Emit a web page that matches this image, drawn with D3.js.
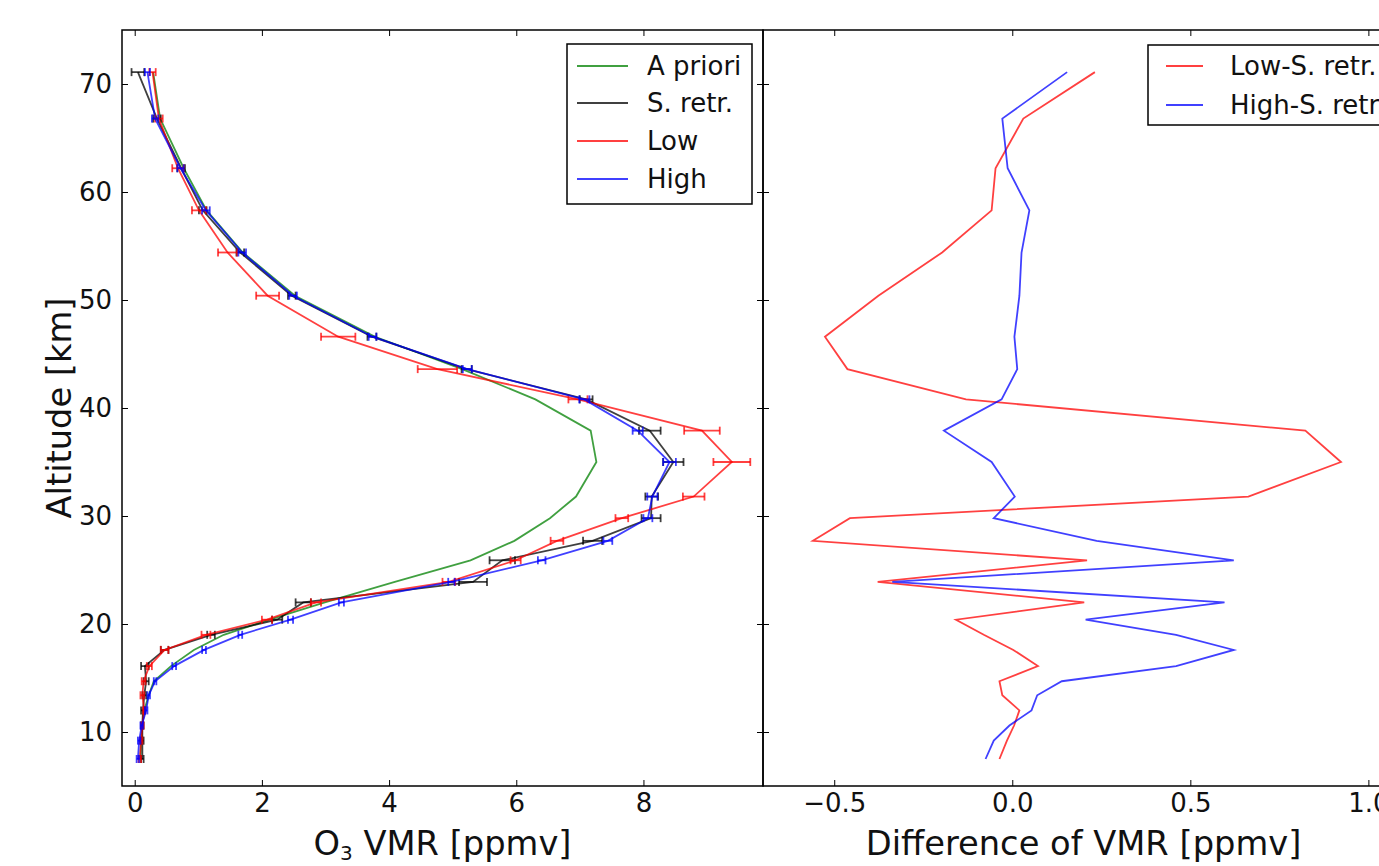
<!DOCTYPE html>
<html>
<head>
<meta charset="utf-8">
<script src="https://cdn.jsdelivr.net/npm/d3@7"></script>
<style>
  body { margin: 0; background: #fff; }
  svg text { font-family: "DejaVu Sans", sans-serif; fill: #111; }
</style>
</head>
<body>
<svg id="chart" width="1379" height="866"></svg>
<script>
// altitude grid of the retrievals [km]
const altitudes = [71.1, 66.8, 62.2, 58.3, 54.4, 50.4, 46.6, 43.6, 40.8, 37.9, 35.0, 31.8, 29.8, 27.7,
                   25.9, 23.9, 22.0, 20.4, 19.0, 17.6, 16.1, 14.7, 13.4, 12.0, 10.6, 9.2, 7.5];

// O3 VMR [ppmv]
const aPriori = [0.29, 0.40, 0.77, 1.13, 1.70, 2.52, 3.78, 5.15, 6.30, 7.17, 7.26, 6.94, 6.53, 5.97,
                 5.28, 4.09, 2.99, 2.12, 1.40, 0.93, 0.57, 0.30, 0.22, 0.15, 0.12, 0.10, 0.09];
const sRetr = [0.05, 0.35, 0.73, 1.07, 1.66, 2.47, 3.73, 5.22, 7.10, 8.10, 8.47, 8.13, 8.12, 7.20,
               5.78, 5.32, 2.65, 2.24, 1.20, 0.47, 0.16, 0.18, 0.15, 0.13, 0.12, 0.12, 0.12];
const lowRetr = [0.28, 0.38, 0.68, 1.01, 1.46, 2.09, 3.20, 4.76, 6.97, 8.92, 9.39, 8.79, 7.66, 6.64,
                 5.99, 4.94, 2.85, 2.08, 1.12, 0.47, 0.23, 0.14, 0.12, 0.15, 0.12, 0.10, 0.08];
const highRetr = [0.20, 0.32, 0.72, 1.12, 1.69, 2.49, 3.74, 5.23, 7.07, 7.91, 8.41, 8.14, 8.07, 7.44,
                  6.40, 4.98, 3.25, 2.45, 1.66, 1.09, 0.62, 0.32, 0.22, 0.18, 0.11, 0.07, 0.05];

// error bar half widths [ppmv]
const errS = [0.10, 0.06, 0.06, 0.06, 0.06, 0.06, 0.07, 0.08, 0.10, 0.17, 0.16, 0.10, 0.15, 0.15,
              0.20, 0.22, 0.12, 0.08, 0.06, 0.06, 0.06, 0.04, 0.03, 0.03, 0.02, 0.02, 0.02];
const errLow = [0.05, 0.06, 0.09, 0.11, 0.15, 0.18, 0.27, 0.31, 0.15, 0.28, 0.29, 0.17, 0.10, 0.10,
                0.08, 0.10, 0.08, 0.08, 0.07, 0.06, 0.04, 0.03, 0.03, 0.02, 0.02, 0.02, 0.02];
const errHigh = [0.04, 0.05, 0.05, 0.06, 0.06, 0.06, 0.06, 0.07, 0.08, 0.08, 0.10, 0.08, 0.07, 0.07,
                 0.06, 0.05, 0.04, 0.04, 0.03, 0.03, 0.03, 0.02, 0.02, 0.02, 0.02, 0.02, 0.02];

// differences [ppmv]
const diffLow = [0.232, 0.031, -0.047, -0.058, -0.197, -0.376, -0.526, -0.463, -0.130, 0.823, 0.923, 0.663, -0.456, -0.560,
                 0.210, -0.378, 0.202, -0.158, -0.080, 0.003, 0.072, -0.036, -0.028, 0.020, 0.005, -0.015, -0.036];
const diffHigh = [0.154, -0.028, -0.013, 0.048, 0.026, 0.020, 0.006, 0.014, -0.030, -0.192, -0.058, 0.007, -0.052, 0.237,
                  0.622, -0.337, 0.596, 0.206, 0.460, 0.622, 0.460, 0.139, 0.070, 0.054, -0.008, -0.052, -0.075];

const leftTicks = [0, 2, 4, 6, 8];
const rightTicks = [-0.5, 0.0, 0.5, 1.0];
const altTicks = [10, 20, 30, 40, 50, 60, 70];

const leftNames = ["A priori", "S. retr.", "Low", "High"];
const rightNames = ["Low-S. retr.", "High-S. retr."];

const green = "#008000", black = "#000000", red = "#ff0000", blue = "#0000ff";

const svg = d3.select("#chart");
svg.append("rect").attr("width", 1379).attr("height", 866).attr("fill", "#fff");

const topY = 30, bottomY = 786;
const leftX0 = 122, mid = 763, rightX1 = 1404;

const yScale = d3.scaleLinear().domain([5, 75]).range([bottomY, topY]);
const xLeft = d3.scaleLinear().domain([-0.2, 9.88]).range([leftX0, mid]);
const xRight = d3.scaleLinear().domain([-0.7, 1.1]).range([mid, rightX1]);

const defs = svg.append("defs");
defs.append("clipPath").attr("id", "clipL").append("rect")
    .attr("x", leftX0).attr("y", topY).attr("width", mid - leftX0).attr("height", bottomY - topY);
defs.append("clipPath").attr("id", "clipR").append("rect")
    .attr("x", mid).attr("y", topY).attr("width", rightX1 - mid).attr("height", bottomY - topY);

function drawAxes(x, x0, x1, ticks, fmt, showY){
  let g = svg.append("g");
  let b = g.append("g").attr("transform", `translate(0,${bottomY})`)
           .call(d3.axisBottom(x).tickValues(ticks).tickSize(-6).tickPadding(8).tickFormat(fmt));
  b.selectAll("text").attr("font-size", 26);
  g.append("g").attr("transform", `translate(0,${topY})`)
   .call(d3.axisTop(x).tickValues(ticks).tickSize(-6).tickFormat(""));
  let l = g.append("g").attr("transform", `translate(${x0},0)`)
           .call(d3.axisLeft(yScale).tickValues(altTicks).tickSize(-6).tickPadding(10)
                 .tickFormat(showY ? d3.format("d") : ""));
  l.selectAll("text").attr("font-size", 26);
  g.append("g").attr("transform", `translate(${x1},0)`)
   .call(d3.axisRight(yScale).tickValues(altTicks).tickSize(-6).tickFormat(""));
  g.selectAll(".domain").remove();
  g.selectAll(".tick line").attr("stroke", "#000").attr("stroke-width", 1);
  g.selectAll("text").attr("font-family", "DejaVu Sans").attr("fill", "#111");
}

drawAxes(xLeft, leftX0, mid, leftTicks, d3.format("d"), true);
drawAxes(xRight, mid, rightX1, rightTicks, d => d3.format(".1f")(d).replace("-", "\u2212"), false);

// left panel profiles
const lineL = d3.line().x(d => xLeft(d[0])).y(d => yScale(d[1]));
const plotL = svg.append("g").attr("clip-path", "url(#clipL)");

function profile(vals, errs, color){
  let pts = vals.map((v, i) => [v, altitudes[i]]);
  let g = plotL.append("g").attr("stroke", color).attr("stroke-opacity", 0.75)
               .attr("fill", "none").attr("stroke-width", 1.8);
  g.append("path").attr("d", lineL(pts));
  if (errs) {
    let eb = g.selectAll(".eb").data(pts.map((p, i) => [p[0], p[1], errs[i]])).enter().append("g");
    eb.append("line")
      .attr("x1", d => xLeft(d[0] - d[2])).attr("x2", d => xLeft(d[0] + d[2]))
      .attr("y1", d => yScale(d[1])).attr("y2", d => yScale(d[1]));
    eb.append("line")
      .attr("x1", d => xLeft(d[0] - d[2])).attr("x2", d => xLeft(d[0] - d[2]))
      .attr("y1", d => yScale(d[1]) - 4).attr("y2", d => yScale(d[1]) + 4);
    eb.append("line")
      .attr("x1", d => xLeft(d[0] + d[2])).attr("x2", d => xLeft(d[0] + d[2]))
      .attr("y1", d => yScale(d[1]) - 4).attr("y2", d => yScale(d[1]) + 4);
  }
}

profile(aPriori, null, green);
profile(sRetr, errS, black);
profile(lowRetr, errLow, red);
profile(highRetr, errHigh, blue);

// right panel differences
const lineR = d3.line().x(d => xRight(d[0])).y(d => yScale(d[1]));
const plotR = svg.append("g").attr("clip-path", "url(#clipR)");
[[diffLow, red], [diffHigh, blue]].forEach(([vals, color]) => {
  plotR.append("path")
       .attr("d", lineR(vals.map((v, i) => [v, altitudes[i]])))
       .attr("fill", "none").attr("stroke", color).attr("stroke-opacity", 0.75).attr("stroke-width", 1.8);
});

// frames
svg.append("rect").attr("x", leftX0).attr("y", topY).attr("width", mid - leftX0).attr("height", bottomY - topY)
   .attr("fill", "none").attr("stroke", "#000").attr("stroke-width", 1.5);
svg.append("rect").attr("x", mid).attr("y", topY).attr("width", rightX1 - mid).attr("height", bottomY - topY)
   .attr("fill", "none").attr("stroke", "#000").attr("stroke-width", 1.5);

// legends
function legend(x, y, w, h, names, colors, lineX, textX, rowY){
  let g = svg.append("g");
  g.append("rect").attr("x", x).attr("y", y).attr("width", w).attr("height", h)
   .attr("fill", "#fff").attr("stroke", "#000").attr("stroke-width", 1.5);
  names.forEach((n, i) => {
    let yy = rowY[i];
    g.append("line").attr("x1", lineX[0]).attr("x2", lineX[1]).attr("y1", yy).attr("y2", yy)
     .attr("stroke", colors[i]).attr("stroke-opacity", 0.75).attr("stroke-width", 1.8);
    g.append("text").attr("x", textX).attr("y", yy).attr("dy", "0.36em")
     .attr("font-size", 26).text(n);
  });
}
legend(567, 44, 185, 160, leftNames, [green, black, red, blue], [577, 628], 647, [66, 103, 141, 179]);
legend(1148, 45, 245, 80, rightNames, [red, blue], [1166, 1203], 1230, [66, 105]);

// axis labels
let xl = svg.append("text").attr("x", (leftX0 + mid) / 2).attr("y", 855)
            .attr("text-anchor", "middle").attr("font-size", 33.7);
xl.append("tspan").text("O");
xl.append("tspan").attr("font-size", 20).attr("dy", 5).text("3");
xl.append("tspan").attr("dy", -5).text(" VMR [ppmv]");

svg.append("text").attr("x", (mid + rightX1) / 2).attr("y", 855)
   .attr("text-anchor", "middle").attr("font-size", 33.7).text("Difference of VMR [ppmv]");

svg.append("text").attr("transform", `translate(71,${(topY + bottomY) / 2}) rotate(-90)`)
   .attr("text-anchor", "middle").attr("font-size", 33.7).text("Altitude [km]");
</script>
</body>
</html>
